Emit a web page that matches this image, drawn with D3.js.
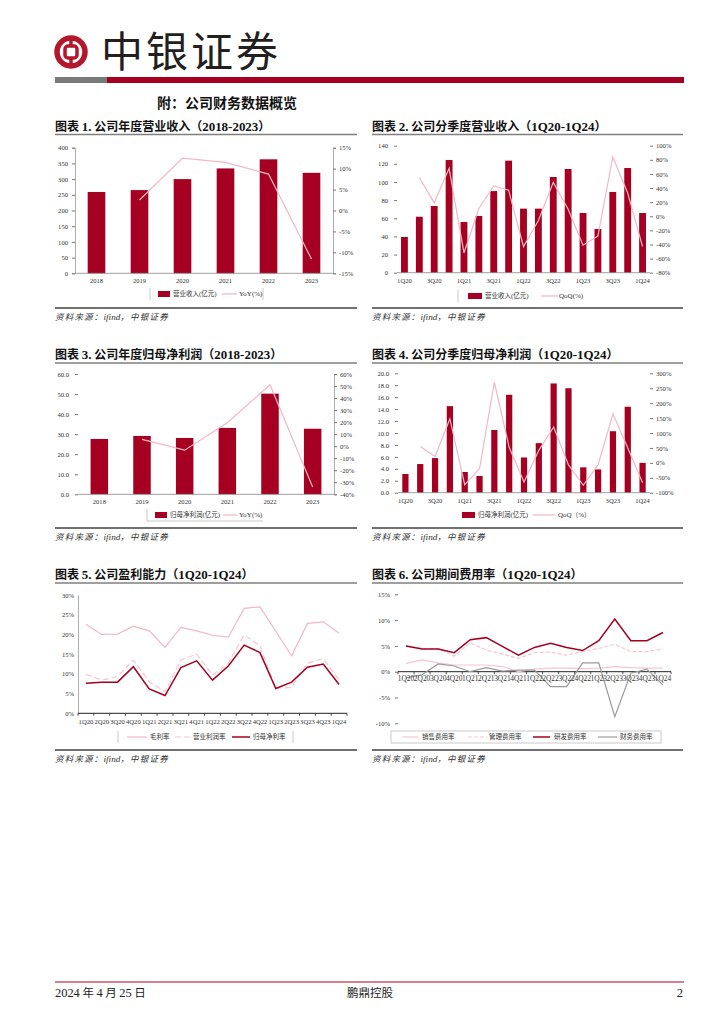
<!DOCTYPE html>
<html><head><meta charset="utf-8">
<script src="https://cdn.jsdelivr.net/npm/d3@7"></script>
<style>body{margin:0;background:#fff}</style>
</head><body>
<svg id="c" width="724" height="1024"></svg>
<script>
// ---------- data ----------
const years = ["2018","2019","2020","2021","2022","2023"];
const quarters = ["1Q20","2Q20","3Q20","4Q20","1Q21","2Q21","3Q21","4Q21","1Q22","2Q22","3Q22","4Q22","1Q23","2Q23","3Q23","4Q23","1Q24"];
const revenueAnnual = [259, 265, 300, 334, 363, 320];
const revenueYoY = [null, 2.5, 12.5, 11.5, 8.7, -11.6];
const revenueQ = [39.4, 61.7, 73.5, 124.2, 55.9, 62.5, 90.0, 123.5, 70.6, 70.6, 105.5, 114.3, 65.8, 48.2, 89.0, 115.4, 65.8];
const revenueQoQ = [null, 55, 19, 68, -52, 11, 43, 37, -43, -6, 48, 10, -41, -28, 84, 33, -43];
const profitAnnual = [27.6, 29.1, 28.1, 33.1, 50.2, 32.7];
const profitYoY = [null, 5.6, -3.3, 19.5, 51.0, -34.0];
const profitQ = [3.13, 4.8, 5.8, 14.5, 3.47, 2.8, 10.5, 16.4, 5.9, 8.3, 18.3, 17.5, 4.25, 3.9, 10.3, 14.4, 5.0];
const profitQoQ = [null, 55, 21, 148, -73, -20, 270, 52, -64, 42, 120, -7, -75, -6, 164, 50, -67];
const grossMargin = [22.6, 20.0, 20.1, 22.1, 20.9, 16.7, 21.8, 20.9, 19.8, 19.3, 26.6, 27.0, 20.8, 14.6, 22.8, 23.2, 20.3];
const opMargin = [9.9, 8.4, 9.3, 13.5, 8.0, 5.5, 13.5, 15.0, 9.7, 12.7, 19.9, 17.1, 6.3, 6.6, 12.7, 13.9, 8.4];
const netMargin = [7.6, 7.9, 7.9, 11.8, 6.2, 4.5, 11.6, 13.3, 8.4, 12.0, 17.3, 15.4, 6.3, 7.9, 11.7, 12.5, 7.3];
const salesRate = [1.6, 2.3, 1.7, 1.3, 1.3, 1.3, 1.0, 0.0, 0.5, 0.7, 0.7, 0.6, 0.7, 1.0, 0.8, 0.7, 0.7];
const adminRate = [5.0, 4.5, 4.5, 3.0, 5.6, 4.2, 3.4, 2.6, 3.7, 3.8, 3.2, 3.9, 4.5, 5.3, 3.9, 3.9, 4.4];
const rdRate = [5.0, 4.4, 4.4, 3.7, 6.2, 6.6, 4.9, 3.2, 4.7, 5.5, 4.7, 4.1, 6.0, 10.2, 6.0, 6.0, 7.6];
const finRate = [-1.2, -0.6, 1.5, 1.1, 0.0, 0.8, 0.1, 0.3, 0.3, -2.9, -2.9, 1.7, 1.7, -8.7, -0.3, 0.5, -2.6];
const ticks1L = [0,50,100,150,200,250,300,350,400], ticks1R = [-15,-10,-5,0,5,10,15];
const ticks2L = [0,20,40,60,80,100,120,140], ticks2R = [-80,-60,-40,-20,0,20,40,60,80,100];
const ticks3L = [0,10,20,30,40,50,60], ticks3R = [-40,-30,-20,-10,0,10,20,30,40,50,60];
const ticks4L = [0,2,4,6,8,10,12,14,16,18,20], ticks4R = [-100,-50,0,50,100,150,200,250,300];
const ticks5 = [0,5,10,15,20,25,30], ticks6 = [-10,-5,0,5,10,15];

// ---------- styles ----------
const RED = "#a50021", PINK = "#f2b8c4", PINK2 = "#f5c6cf", GRAY = "#9a9a9a";
const NUM = "'Liberation Serif','Times New Roman',serif";
const CJK = "'Noto Sans CJK SC','Noto Sans CJK JP',sans-serif";
const svg = d3.select("#c");

function mixed(sel, str, size, weight, italic, ls) {
  const parts = str.split(/([\x21-\x7E]+(?:[ \x21-\x7E]*[\x21-\x7E])?)/).filter(s => s.length);
  parts.forEach(p => {
    const ascii = /^[\x20-\x7E]+$/.test(p);
    sel.append("tspan").text(p)
      .attr("font-family", ascii ? NUM : CJK)
      .attr("font-size", ascii ? size * 1.08 : size)
      .attr("font-weight", weight || "normal")
      .attr("letter-spacing", ascii ? null : (ls || null))
      .attr("font-style", italic ? "italic" : "normal");
  });
  return sel;
}

// ---------- header ----------
const LOGO = "#b3172b";
const logo = svg.append("g").attr("transform", "translate(71,52)");
logo.append("circle").attr("r", 14).attr("fill", "none").attr("stroke", LOGO).attr("stroke-width", 5.5);
logo.append("rect").attr("x", -6).attr("y", -6).attr("width", 12).attr("height", 12).attr("rx", 3)
  .attr("fill", "none").attr("stroke", LOGO).attr("stroke-width", 3.5);
logo.append("line").attr("x1", 0).attr("x2", 0).attr("y1", -14).attr("y2", -7).attr("stroke", LOGO).attr("stroke-width", 3.5);
logo.append("line").attr("x1", 0).attr("x2", 0).attr("y1", 7).attr("y2", 14).attr("stroke", LOGO).attr("stroke-width", 3.5);
svg.append("text").attr("x", 101).attr("y", 67).attr("font-family", CJK).attr("font-size", 42)
  .attr("letter-spacing", 3).attr("fill", "#231f20").text("中银证券");
svg.append("rect").attr("x", 55).attr("y", 77).attr("width", 52).attr("height", 6).attr("fill", "#7a7a7a");
svg.append("rect").attr("x", 107).attr("y", 77).attr("width", 577).attr("height", 6).attr("fill", RED);
svg.append("text").attr("x", 157).attr("y", 108).attr("font-family", CJK).attr("font-size", 14)
  .attr("font-weight", "bold").attr("fill", "#111").text("附：公司财务数据概览");

// ---------- frame helper ----------
function frame(x0, x1, titleY, title, topY, botY) {
  mixed(svg.append("text").attr("x", x0).attr("y", titleY).attr("fill", "#111"), title, 12, "bold");
  svg.append("line").attr("x1", x0).attr("x2", x1).attr("y1", topY).attr("y2", topY).attr("stroke", "#7f7f7f").attr("stroke-width", 1.5);
  svg.append("line").attr("x1", x0).attr("x2", x1).attr("y1", botY).attr("y2", botY).attr("stroke", "#404040").attr("stroke-width", 1.5);
  mixed(svg.append("text").attr("x", x0).attr("y", botY + 12).attr("fill", "#333"), "资料来源：ifind，中银证券", 8.5, "normal", true, 1.2);
}
frame(55, 357, 131, "图表 1. 公司年度营业收入（2018-2023）", 134.5, 308);
frame(372, 683, 131, "图表 2. 公司分季度营业收入（1Q20-1Q24）", 134.5, 308);
frame(55, 357, 359, "图表 3. 公司年度归母净利润（2018-2023）", 363, 528);
frame(372, 683, 359, "图表 4. 公司分季度归母净利润（1Q20-1Q24）", 363, 528);
frame(55, 357, 579, "图表 5. 公司盈利能力（1Q20-1Q24）", 583, 750);
frame(372, 683, 579, "图表 6. 公司期间费用率（1Q20-1Q24）", 583, 750);

// ---------- axis helper ----------
function styleAxis(g, keepDomain) {
  g.selectAll("text").attr("font-family", NUM).attr("font-size", 6.6).attr("fill", "#333");
  g.selectAll(".tick line").attr("stroke", "#777");
  if (keepDomain) g.select(".domain").attr("stroke", "#999").attr("stroke-width", 0.8);
  else g.select(".domain").remove();
}

function legend(items, y, border) {
  if (border) {
    const [bx0, bx1, sides] = border;
    if (sides.includes("l")) svg.append("line").attr("x1", bx0).attr("x2", bx0).attr("y1", y - 6).attr("y2", y + 6).attr("stroke", "#bbb").attr("stroke-width", 0.8);
    if (sides.includes("r")) svg.append("line").attr("x1", bx1).attr("x2", bx1).attr("y1", y - 6).attr("y2", y + 6).attr("stroke", "#bbb").attr("stroke-width", 0.8);
    if (sides.includes("b")) svg.append("line").attr("x1", bx0).attr("x2", bx1).attr("y1", y + 6).attr("y2", y + 6).attr("stroke", "#bbb").attr("stroke-width", 0.8);
    if (sides.includes("t")) svg.append("line").attr("x1", bx0).attr("x2", bx1).attr("y1", y - 6).attr("y2", y - 6).attr("stroke", "#bbb").attr("stroke-width", 0.8);
  }
  items.forEach(it => {
    if (it.type === "bar") {
      svg.append("rect").attr("x", it.x0).attr("y", y - 3).attr("width", it.x1 - it.x0).attr("height", 6).attr("fill", it.color);
    } else {
      svg.append("line").attr("x1", it.x0).attr("x2", it.x1).attr("y1", y).attr("y2", y)
        .attr("stroke", it.color).attr("stroke-width", it.w || 1.2).attr("stroke-dasharray", it.dash || null);
    }
    mixed(svg.append("text").attr("x", it.tx).attr("y", y + 2.3).attr("fill", "#333"), it.label, 6.5);
  });
}

// ---------- bar + line combo ----------
function combo(c) {
  const x = d3.scaleBand().domain(c.cats).range([c.x0, c.x1]).paddingInner(c.pad).paddingOuter(c.pad / 2);
  const yL = d3.scaleLinear().domain(c.lDom).range([c.yBot, c.yTop]);
  const yR = d3.scaleLinear().domain(c.rDom).range([c.yBot, c.yTop]);
  const gL = svg.append("g").attr("transform", `translate(${c.x0},0)`)
    .call(d3.axisLeft(yL).tickValues(c.lTicks).tickSize(3).tickPadding(c.lPad || 4).tickFormat(c.lFmt));
  styleAxis(gL, c.leftLine);
  const gR = svg.append("g").attr("transform", `translate(${c.x1},0)`)
    .call(d3.axisRight(yR).tickValues(c.rTicks).tickSize(3).tickPadding(c.rPad || 3).tickFormat(d => d + "%"));
  styleAxis(gR, c.rightLine);
  svg.append("g").selectAll("rect").data(c.bars).join("rect")
    .attr("x", (d, i) => x(c.cats[i])).attr("width", x.bandwidth())
    .attr("y", d => yL(d)).attr("height", d => yL(0) - yL(d)).attr("fill", RED);
  svg.append("line").attr("x1", c.x0).attr("x2", c.x1).attr("y1", c.yBot).attr("y2", c.yBot).attr("stroke", "#888").attr("stroke-width", 0.8);
  const line = d3.line().defined(d => d != null)
    .x((d, i) => x(c.cats[i]) + x.bandwidth() / 2).y(d => yR(d));
  svg.append("path").datum(c.line).attr("d", line).attr("fill", "none").attr("stroke", PINK).attr("stroke-width", 1.2);
  svg.append("g").selectAll("text").data(c.cats.filter((d, i) => i % c.every === 0)).join("text")
    .attr("x", d => x(d) + x.bandwidth() / 2).attr("y", c.yBot + 10).attr("text-anchor", "middle")
    .attr("font-family", NUM).attr("font-size", 6.6).attr("fill", "#333").text(d => d);
}

combo({cats: years, bars: revenueAnnual, line: revenueYoY, x0: 75, x1: 333, yTop: 147.7, yBot: 273.3,
  lDom: [0, 400], lTicks: ticks1L, lFmt: d => d, rDom: [-15, 15], rTicks: ticks1R,
  pad: 0.59, every: 1, leftLine: true, rightLine: true});
legend([{type: "bar", color: RED, x0: 158, x1: 170, tx: 173, label: "营业收入(亿元)"},
        {type: "line", color: PINK, x0: 222, x1: 237, tx: 239, label: "YoY(%)"}], 294, [150, 263, "lr"]);

combo({cats: quarters, bars: revenueQ, line: revenueQoQ, x0: 397, x1: 650, yTop: 145.7, yBot: 272.7,
  lDom: [0, 140], lTicks: ticks2L, lFmt: d => d, rDom: [-80, 100], rTicks: ticks2R, lPad: 6,
  pad: 0.54, every: 2, leftLine: false, rightLine: false});
legend([{type: "bar", color: RED, x0: 468, x1: 482, tx: 485, label: "营业收入(亿元)"},
        {type: "line", color: PINK, x0: 541, x1: 558, tx: 559, label: "QoQ(%)"}], 296, [458, 0, "l"]);

combo({cats: years, bars: profitAnnual, line: profitYoY, x0: 78, x1: 334, yTop: 374, yBot: 494.3,
  lDom: [0, 60], lTicks: ticks3L, lFmt: d3.format(".1f"), rDom: [-40, 60], rTicks: ticks3R, lPad: 6,
  pad: 0.59, every: 1, leftLine: false, rightLine: true});
legend([{type: "bar", color: RED, x0: 155, x1: 167, tx: 170, label: "归母净利润(亿元)"},
        {type: "line", color: PINK, x0: 223, x1: 237, tx: 239, label: "YoY(%)"}], 515, [147, 263, "lb"]);

combo({cats: quarters, bars: profitQ, line: profitQoQ, x0: 398, x1: 650, yTop: 373.3, yBot: 492.7,
  lDom: [0, 20], lTicks: ticks4L, lFmt: d3.format(".1f"), rDom: [-100, 300], rTicks: ticks4R, lPad: 6,
  pad: 0.58, every: 2, leftLine: false, rightLine: false});
legend([{type: "bar", color: RED, x0: 462, x1: 475, tx: 478, label: "归母净利润(亿元)"},
        {type: "line", color: PINK, x0: 533, x1: 555, tx: 558, label: "QoQ（%）"}], 515, null);

// ---------- line charts ----------
function lines(c) {
  const x = d3.scaleBand().domain(quarters).range([c.x0, c.x1]);
  const y = d3.scaleLinear().domain(c.dom).range([c.yBot, c.yTop]);
  const gY = svg.append("g").attr("transform", `translate(${c.x0},0)`)
    .call(d3.axisLeft(y).tickValues(c.ticks).tickSize(c.leftLine ? 0 : 3).tickPadding(c.leftLine ? 4 : 5).tickFormat(d => d + "%"));
  styleAxis(gY, c.leftLine);
  const ax = y(0);
  svg.append("line").attr("x1", c.x0).attr("x2", c.x1).attr("y1", ax).attr("y2", ax).attr("stroke", "#222").attr("stroke-width", 1);
  svg.append("g").selectAll("line").data(d3.range(quarters.length + 1)).join("line")
    .attr("x1", i => c.x0 + i * x.step()).attr("x2", i => c.x0 + i * x.step())
    .attr("y1", ax).attr("y2", ax + 2.5).attr("stroke", "#222").attr("stroke-width", 0.8);
  c.series.forEach(s => {
    const ln = d3.line().x((d, i) => x(quarters[i]) + x.bandwidth() / 2).y(d => y(d));
    svg.append("path").datum(s.data).attr("d", ln).attr("fill", "none").attr("stroke", s.color)
      .attr("stroke-width", s.w).attr("stroke-dasharray", s.dash || null);
  });
  svg.append("g").selectAll("text").data(quarters).join("text")
    .attr("x", d => x(d) + x.bandwidth() / 2).attr("y", ax + c.labOff).attr("text-anchor", "middle")
    .attr("font-family", NUM).attr("font-size", c.labSize).attr("fill", "#333").text(d => d);
}

lines({x0: 78, x1: 347, yTop: 595, yBot: 713.3, dom: [0, 30], ticks: ticks5, leftLine: true, labOff: 11, labSize: 6.6,
  series: [{data: grossMargin, color: PINK, w: 1.2},
           {data: opMargin, color: PINK2, w: 1.2, dash: "6,3"},
           {data: netMargin, color: RED, w: 1.5}]});
legend([{type: "line", color: PINK, x0: 127, x1: 147, tx: 150, label: "毛利率"},
        {type: "line", color: PINK2, x0: 175, x1: 190, tx: 193, label: "营业利润率", dash: "6,3"},
        {type: "line", color: RED, x0: 232, x1: 250, tx: 253, label: "归母净利率", w: 1.5}], 737, [118, 293, "lr"]);

lines({x0: 398, x1: 671, yTop: 594.3, yBot: 723.3, dom: [-10, 15], ticks: ticks6, leftLine: false, labOff: 9, labSize: 7.4,
  series: [{data: salesRate, color: PINK2, w: 1.2},
           {data: adminRate, color: PINK2, w: 1.2, dash: "4,2"},
           {data: rdRate, color: RED, w: 1.5},
           {data: finRate, color: GRAY, w: 1.2}]});
legend([{type: "line", color: PINK2, x0: 402, x1: 418, tx: 422, label: "销售费用率"},
        {type: "line", color: PINK2, x0: 468, x1: 487, tx: 489, label: "管理费用率", dash: "4,2"},
        {type: "line", color: RED, x0: 533, x1: 550, tx: 554, label: "研发费用率", w: 1.5},
        {type: "line", color: GRAY, x0: 598, x1: 617, tx: 620, label: "财务费用率"}], 737, [391, 661, "lrtb"]);

// ---------- footer ----------
svg.append("line").attr("x1", 55).attr("x2", 684).attr("y1", 982).attr("y2", 982).attr("stroke", RED).attr("stroke-width", 1.2);
mixed(svg.append("text").attr("x", 55).attr("y", 997).attr("fill", "#222"), "2024 年 4 月 25 日", 11.5);
svg.append("text").attr("x", 370).attr("y", 997).attr("text-anchor", "middle").attr("font-family", CJK)
  .attr("font-size", 11.5).attr("fill", "#222").text("鹏鼎控股");
svg.append("text").attr("x", 683).attr("y", 997).attr("text-anchor", "end").attr("font-family", NUM)
  .attr("font-size", 12.5).attr("fill", "#222").text("2");
</script>
</body></html>
